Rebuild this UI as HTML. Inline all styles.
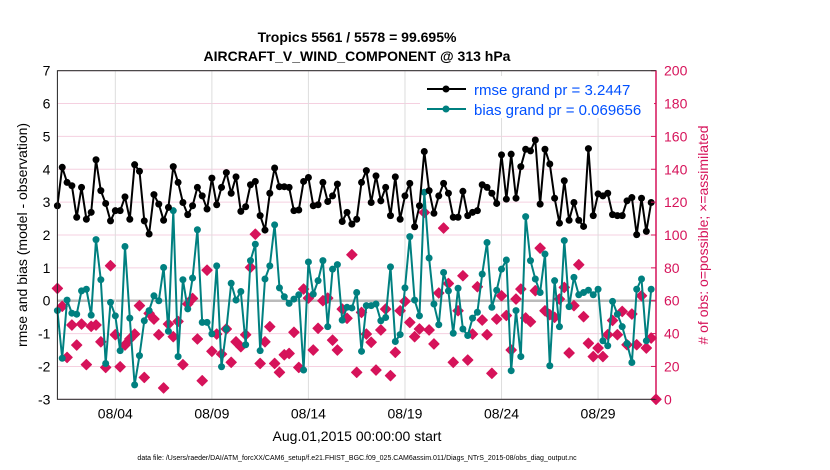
<!DOCTYPE html>
<html><head><meta charset="utf-8"><style>
html,body{margin:0;padding:0;background:#fff;}
svg{display:block;font-family:"Liberation Sans",sans-serif;}
</style></head><body>
<svg id="chart" width="830" height="470" viewBox="0 0 830 470">
<text x="357" y="42" text-anchor="middle" font-size="14" font-weight="bold">Tropics 5561 / 5578 = 99.695%</text>
<text x="357" y="61" text-anchor="middle" font-size="14" font-weight="bold">AIRCRAFT_V_WIND_COMPONENT @ 313 hPa</text>
<g id="grid"></g>
<g id="series"></g>
<g id="axes"></g>
<g>
<rect x="420" y="76" width="234" height="42" fill="#fff"/>
<g>
<line x1="427" y1="89" x2="466" y2="89" stroke="#000" stroke-width="2"/><circle cx="446" cy="89" r="3.5" fill="#000"/>
<text x="474" y="95" font-size="15" fill="#0050ff">rmse grand pr = 3.2447</text></g>
<g>
<line x1="427" y1="109" x2="466" y2="109" stroke="#008080" stroke-width="2"/><circle cx="446" cy="109" r="3.5" fill="#008080"/>
<text x="474" y="115" font-size="15" fill="#0050ff">bias grand pr = 0.069656</text></g>
</g>
<text transform="translate(27,235) rotate(-90)" text-anchor="middle" font-size="14">rmse and bias (model - observation)</text>
<text transform="translate(708,235) rotate(-90)" text-anchor="middle" font-size="14" fill="#d6135a"># of obs: o=possible; ×=assimilated</text>
<text x="357" y="441" text-anchor="middle" font-size="14">Aug.01,2015 00:00:00 start</text>
<text x="357" y="460" text-anchor="middle" font-size="7">data file: /Users/raeder/DAI/ATM_forcXX/CAM6_setup/f.e21.FHIST_BGC.f09_025.CAM6assim.011/Diags_NTrS_2015-08/obs_diag_output.nc</text>
</svg>
<script>
const rmse=[2.89,4.06,3.60,3.50,2.54,3.45,2.48,2.69,4.29,3.35,2.96,2.43,2.74,2.74,3.16,2.48,4.14,3.94,2.43,2.03,3.23,2.94,2.45,2.84,4.08,3.60,2.99,2.62,2.89,3.45,3.19,2.79,
3.73,2.92,3.45,3.90,3.27,3.77,2.72,2.86,3.53,3.63,2.59,2.15,3.27,4.04,3.47,3.47,3.45,2.74,2.76,3.63,3.75,2.89,2.92,3.60,3.02,3.19,3.55,2.41,2.69,2.33,
2.48,3.60,3.96,2.99,3.80,3.04,3.45,2.59,3.77,2.48,3.19,3.57,2.25,2.89,4.54,3.35,2.66,3.19,3.57,3.27,2.54,2.54,3.33,2.59,2.69,2.74,3.53,3.45,3.27,2.96,4.44,3.09,
4.46,3.12,4.08,4.61,4.56,4.89,2.94,4.61,4.16,3.12,2.36,3.65,2.45,2.99,2.45,2.26,4.63,2.59,3.25,3.19,3.27,2.62,2.59,2.59,3.04,3.14,2.01,3.12,2.11,2.99,null];
const bias=[-0.30,-1.75,0.02,-0.38,-0.41,0.30,0.35,-0.44,1.86,0.64,-1.91,-0.05,-0.46,-1.52,1.65,-0.53,-2.56,-1.67,-0.61,-0.30,0.15,0.00,1.01,-0.93,2.74,-1.70,0.64,-0.25,0.69,2.16,-0.66,-0.66,
-1.01,1.06,-2.01,-0.86,0.53,0.02,0.28,-1.34,1.22,1.72,-1.52,0.66,1.06,2.31,0.39,0.12,-0.08,0.05,0.18,-2.11,1.18,0.20,0.61,1.22,-0.79,0.96,1.10,-0.59,-0.20,-0.22,
0.25,-1.54,-0.15,-0.15,-0.10,-0.61,-0.51,1.03,-1.24,-1.03,0.39,1.95,0.02,-0.46,3.30,1.30,-0.10,-0.73,0.86,0.30,-0.99,0.38,-0.86,-1.06,-0.53,-0.35,0.81,1.77,-0.20,0.32,0.96,1.24,
-2.13,-0.30,-1.70,2.56,1.22,0.66,0.25,1.42,-1.98,0.61,-0.79,1.83,-0.18,0.71,0.18,0.25,0.32,0.18,0.35,-1.22,-1.37,-0.02,-0.41,-0.79,-1.30,-1.88,0.35,0.66,-1.22,0.35,null];
const nobs=[67.5,56.6,25.5,45.2,33.0,45.8,21.1,44.4,45.2,35.0,19.4,81.3,39.3,19.8,33.0,36.7,39.7,57.0,13.3,52.3,48.8,39.3,6.9,45.8,38.1,47.4,21.1,58.0,61.4,36.7,11.3,78.6,
29.2,39.7,27.5,42.8,22.5,35.0,32.0,39.3,80.3,100.5,21.8,35.0,44.2,21.8,16.4,27.1,27.9,40.8,19.4,67.1,61.6,30.0,43.2,60.0,61.6,36.0,30.0,54.9,49.3,88.0,
16.4,52.9,39.7,34.7,17.8,42.2,54.9,14.4,28.6,53.9,59.6,46.8,38.1,42.8,113.7,42.2,33.7,64.7,104.2,70.5,22.5,53.9,75.2,23.9,39.7,68.5,48.2,39.3,15.8,48.8,63.0,51.0,
30.0,61.0,67.1,49.5,47.2,66.1,92.0,53.9,51.5,49.9,61.0,68.1,28.2,57.0,81.9,50.3,34.1,26.0,31.2,26.0,39.3,48.0,39.3,53.5,33.2,51.9,33.2,63.0,31.2,37.3,0];
const leftTicks=[7,6,5,4,3,2,1,0,-1,-2,-3];
const rightTicks=[200,180,160,140,120,100,80,60,40,20,0];
const dateTicks=[3,8,13,18,23,28];
const dateLabels=["08/04","08/09","08/14","08/19","08/24","08/29"];

const L=57.4,R=656,T=70.7,B=399.3;
const x=d=>L+(d/31)*(R-L);
const y=v=>B-(v+3)/10*(B-T);
const yr=c=>B-c/200*(B-T);
const NS="http://www.w3.org/2000/svg";
function mk(tag,parent,attrs){const e=document.createElementNS(NS,tag);for(const k in attrs)e.setAttribute(k,attrs[k]);parent.appendChild(e);return e;}
const grid=document.getElementById('grid'),ser=document.getElementById('series'),ax=document.getElementById('axes');
mk('rect',grid,{x:L,y:T,width:R-L,height:B-T,fill:'#fff'});
leftTicks.forEach(v=>{const l=mk('line',grid,{x1:L,x2:R,y1:y(v),y2:y(v),stroke:v===0?'#bbb':'#f5d0e0','stroke-width':v===0?2.5:1});


const t=mk('text',ax,{x:L-7,y:y(v)+5,'text-anchor':'end','font-size':14});t.textContent=v;

});
rightTicks.forEach(c=>{const t=mk('text',ax,{x:R+8,y:yr(c)+5,'font-size':14,fill:'#d6135a'});t.textContent=c;


mk('line',ax,{x1:R-5,x2:R,y1:yr(c),y2:yr(c),stroke:'#d6135a'});});
dateTicks.forEach((d,i)=>{const l=mk('line',grid,{x1:x(d),x2:x(d),y1:T,y2:B,stroke:'#ddd'});


const t=mk('text',ax,{x:x(d),y:B+19,'text-anchor':'middle','font-size':14});t.textContent=dateLabels[i];

});
const frame=mk('rect',ax,{x:L,y:T,width:R-L,height:B-T,fill:'none',stroke:'#222'});


mk('line',ax,{x1:R,x2:R,y1:T,y2:B,stroke:'#d6135a','stroke-width':1.5});
nobs.forEach((c,i)=>{const cx=x(i*0.25),cy=yr(c),s=5.2;
const p=mk('polygon',ser,{points:`${cx},${cy-s} ${cx+s},${cy} ${cx},${cy+s} ${cx-s},${cy}`,fill:'#d6135a','stroke':'#d6135a','stroke-width':1,'stroke-linejoin':'round'});

});
function line(arr,color,name){let d='';arr.forEach((v,i)=>{if(v===null)return;d+=(d?'L':'M')+x(i*0.25).toFixed(1)+','+y(v).toFixed(1);});
const p=mk('path',ser,{d:d,fill:'none',stroke:color,'stroke-width':2});


arr.forEach((v,i)=>{if(v===null)return;const c=mk('circle',ser,{cx:x(i*0.25),cy:y(v),r:3.5,fill:color});

});}
line(bias,'#008080','bias');
line(rmse,'#000','rmse');
</script>
</body></html>
